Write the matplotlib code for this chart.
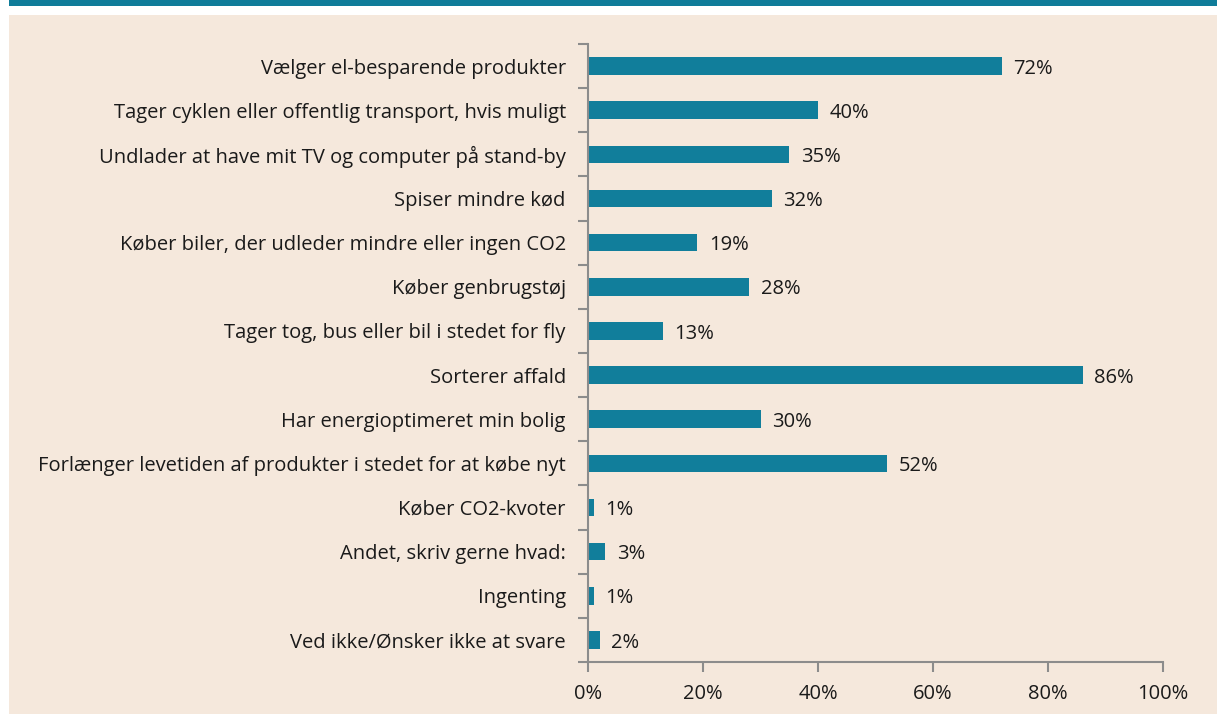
import numpy as np
import matplotlib.pyplot as plt

labels = [
    "Vælger el-besparende produkter",
    "Tager cyklen eller offentlig transport, hvis muligt",
    "Undlader at have mit TV og computer på stand-by",
    "Spiser mindre kød",
    "Køber biler, der udleder mindre eller ingen CO2",
    "Køber genbrugstøj",
    "Tager tog, bus eller bil i stedet for fly",
    "Sorterer affald",
    "Har energioptimeret min bolig",
    "Forlænger levetiden af produkter i stedet for at købe nyt",
    "Køber CO2-kvoter",
    "Andet, skriv gerne hvad:",
    "Ingenting",
    "Ved ikke/Ønsker ikke at svare",
]
values = [72, 40, 35, 32, 19, 28, 13, 86, 30, 52, 1, 3, 1, 2]
xticks = [0, 20, 40, 60, 80, 100]

bg = "#F5E8DC"
teal = "#117E9B"
grey = "#8C8C8C"
txt = "#1a1a1a"
fs = 14.5

plt.rcParams['font.family'] = ['Open Sans', 'DejaVu Sans']

fig = plt.figure(figsize=(12.17, 7.14), dpi=100)
fig.patch.set_facecolor("white")
# top strip and beige panel, behind the axes
fig.add_artist(plt.Rectangle((9/1217, 1 - 6/714), 1, 6/714, transform=fig.transFigure,
                             facecolor="#0F7C99", edgecolor="none", zorder=-10))
fig.add_artist(plt.Rectangle((9/1217, 0), 1, 1 - 15/714, transform=fig.transFigure,
                             facecolor=bg, edgecolor="none", zorder=-10))

ax = fig.add_axes([588/1217, 1 - 662/714, (1163 - 588)/1217, (662 - 44)/714])
ax.set_facecolor("none")

n = len(labels)
y = np.arange(n)
ax.barh(y, values, height=0.4, color=teal)
for yi, v in zip(y, values):
    ax.text(v + 2.0, yi + 0.06, f"{v}%", va="center", ha="left", fontsize=fs, color=txt)

ax.set_ylim(n - 0.5, -0.5)
ax.set_xlim(0, 100)
ax.set_xticks(xticks)
ax.set_xticklabels([f"{t}%" for t in xticks], fontsize=fs, color=txt)
ax.set_yticks(y)
ax.set_yticklabels(labels, fontsize=fs, color=txt)
ax.set_yticks(np.arange(n + 1) - 0.5, minor=True)
ax.tick_params(axis="y", which="major", length=0, pad=16)
ax.tick_params(axis="y", which="minor", length=7, width=1.5, color=grey, direction="out")
ax.tick_params(axis="x", length=7, width=1.5, color=grey, direction="out", pad=9)

for s in ["top", "right"]:
    ax.spines[s].set_visible(False)
for s in ["left", "bottom"]:
    ax.spines[s].set_color(grey)
    ax.spines[s].set_linewidth(1.5)

fig.savefig("out.png", dpi=100, facecolor=fig.get_facecolor())
